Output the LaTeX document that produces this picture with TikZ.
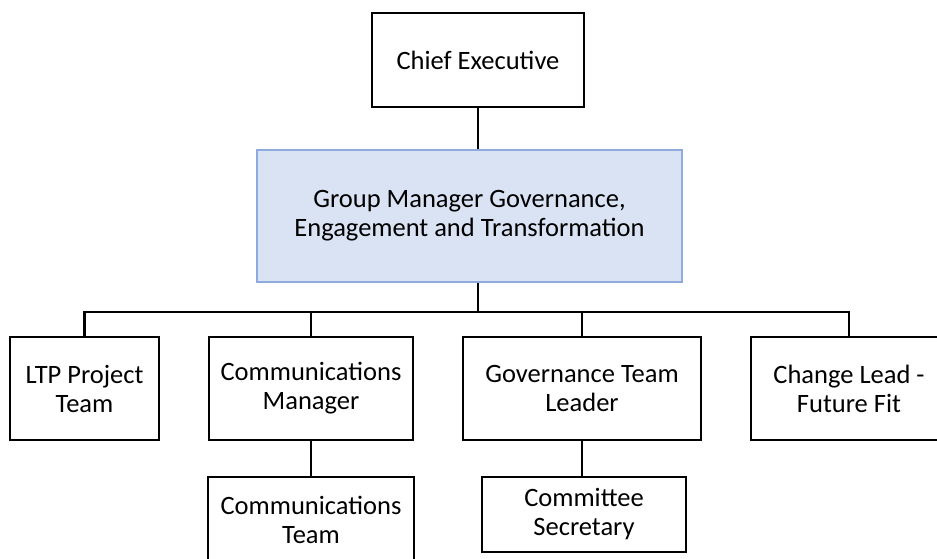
\documentclass[tikz,border=0pt]{standalone}
\usepackage{fontspec}
\setmainfont{Carlito}
\definecolor{gmfill}{HTML}{DAE3F3}
\definecolor{gmline}{HTML}{8FAADC}

\begin{document}
\begin{tikzpicture}[x = 1pt, y = -1pt,
        font = \fontsize{26.5}{29}\selectfont,
        post/.style = {draw, line width = 2.6pt, inner sep = 0pt, align = center},
        head/.style = {draw = gmline, fill = gmfill, line width = 2.2pt, inner sep = 0pt, align = center},
        link/.style = {line width = 2.6pt}]
        \useasboundingbox (0,0) rectangle (937,559);
        \clip (0,0) rectangle (937,559);
        % top of the chart
        \node[post, minimum width = 212pt, minimum height = 94pt] (ce) at (478,60) {Chief Executive};
        \node[head, minimum width = 425pt, minimum height = 132pt] (gm) at (469.5,216) {Group Manager Governance,\\ Engagement and Transformation};
        % direct reports
        \node[post, minimum width = 149pt, minimum height = 103pt] (lt) at (84.5,388.5) {LTP Project\\ Team};
        \node[post, minimum width = 204pt, minimum height = 103pt] (cm) at (311,388.5) {Communications\\ Manager};
        \node[post, minimum width = 238pt, minimum height = 103pt] (gt) at (582,388.5) {Governance Team\\ Leader};
        \node[post, minimum width = 196pt, minimum height = 103pt] (cl) at (849,388.5) {Change Lead -\\ Future Fit};
        % second level
        \node[post, minimum width = 206pt, minimum height = 86pt] (ct) at (311,520) {Communications\\ Team};
        \node[post, minimum width = 204pt, minimum height = 75pt] (cs) at (584,514.5) {Committee\\ Secretary};
        \coordinate (bus) at (478,312);
        \begin{scope}[style = link]
            \draw (ce.south) -- (ce.south |- gm.north);
            \draw (ce.south |- gm.south) -- (bus);
            \draw (bus) -| (lt.north);
            \draw (bus) -| (cm.north);
            \draw (bus) -| (gt.north);
            \draw (bus) -| (cl.north);
            \draw (cm.south) -- (cm.south |- ct.north);
            \draw (gt.south) -- (gt.south |- cs.north);
        \end{scope}
    \end{tikzpicture}
\end{document}
